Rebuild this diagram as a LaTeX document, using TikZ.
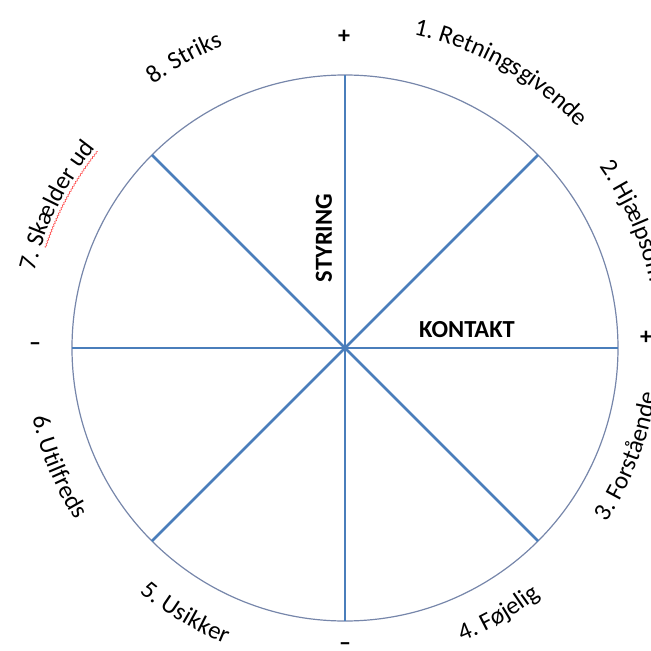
\documentclass[tikz,border=0pt]{standalone}
\usepackage{fontspec}
\setmainfont{Carlito}
\usetikzlibrary{decorations.text,decorations.pathmorphing}
\definecolor{spoke}{RGB}{74,126,187}
\definecolor{rim}{RGB}{118,134,170}
\newcommand\labfont{\fontsize{25}{29}\selectfont}
\newcommand\toplabel[3]{%
  \path[decorate,decoration={text along path,text align=center,text={|\labfont|#3}}]
    ({#1+50}:#2) arc[start angle={#1+50}, end angle={#1-50}, radius=#2];}
\newcommand\botlabel[3]{%
  \path[decorate,decoration={text along path,text align=center,text={|\labfont|#3}}]
    ({#1-50}:#2) arc[start angle={#1-50}, end angle={#1+50}, radius=#2];}
\begin{document}
\begin{tikzpicture}[x=1pt,y=1pt,
  spokeline/.style={draw=spoke,line width=2.6pt},
  sign/.style={font=\fontsize{24}{28}\selectfont\bfseries,inner sep=0pt},
  axislabel/.style={font=\fontsize{24.5}{28}\selectfont\bfseries,inner sep=0pt}]
\useasboundingbox (-345,-303) rectangle (306,348);
\clip (-345,-303) rectangle (306,348);
\node[circle,draw=rim,line width=1.2pt,minimum size=546pt,inner sep=0pt,outer sep=0pt] (c) at (0,0) {};
\foreach \a in {0,45,...,315} {\draw[spokeline] (c.center) -- (c.\a);}
\node[axislabel,rotate=90] (styring) at (-21,110) {STYRING};
\node[axislabel] (kontakt) at (122,18) {KONTAKT};
\node[sign] (ptop) at (-1,311) {+};
\node[sign] (pright) at (301,10) {+};
\node[sign] (mleft) at (-310,1.5) {–};
\node[sign] (mbot) at (0,-298.5) {–};
\toplabel{60.5}{321}{1. Retningsgivende}
\toplabel{23.8}{312}{2. Hjælpsom}
\botlabel{-21}{314}{3. Forstående}
\botlabel{-60}{316}{4. Føjelig}
\botlabel{-121}{319}{5. Usikker}
\botlabel{-157.5}{320}{6. Utilfreds}
\toplabel{153.7}{320}{7. Skælder ud}
\toplabel{119}{326}{8. Striks}
\draw[red!70,line width=0.6pt,decorate,decoration={snake,amplitude=0.7pt,segment length=3pt}]
  (161.5:316) arc[start angle=161.5,end angle=141.5,radius=316];
\end{tikzpicture}
\end{document}
